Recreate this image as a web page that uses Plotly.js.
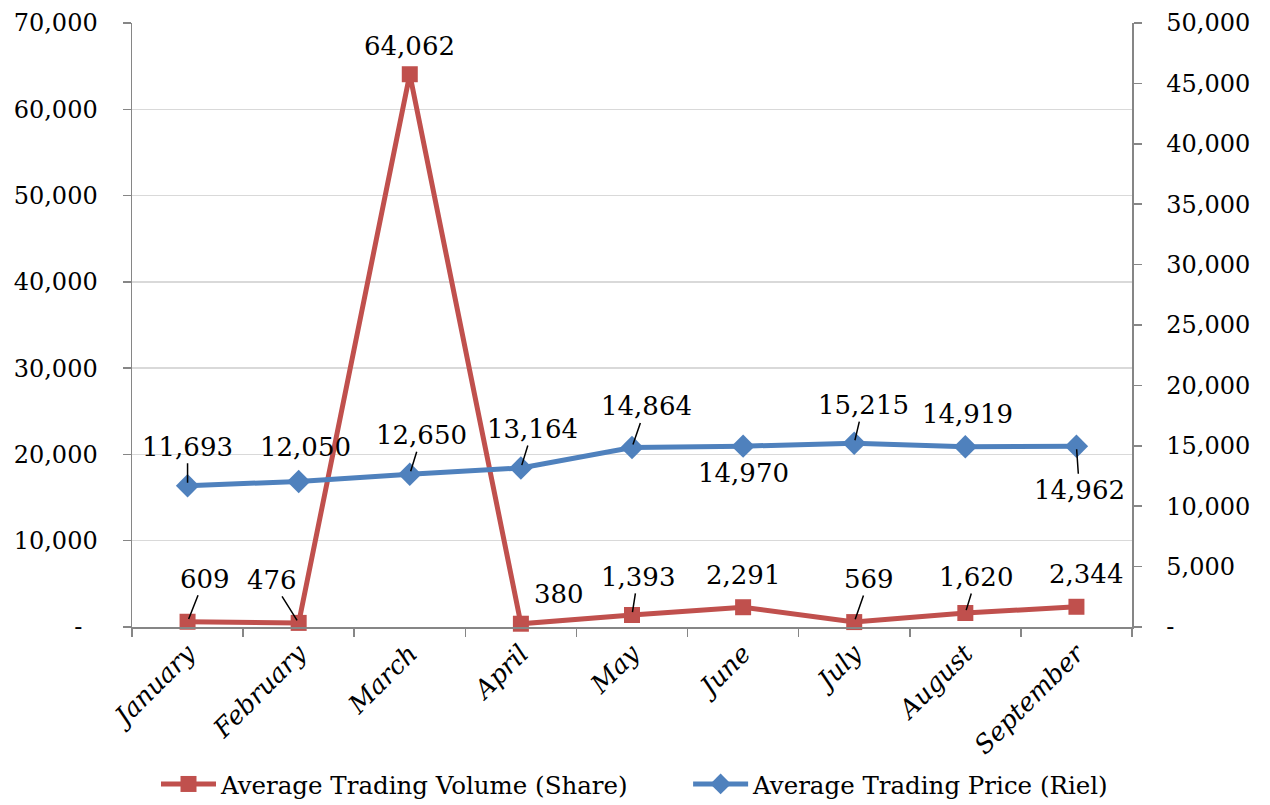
<!DOCTYPE html>
<html>
<head>
<meta charset="utf-8">
<script src="https://cdn.plot.ly/plotly-3.0.1.min.js"></script>
<style>html,body{margin:0;padding:0;background:#fff;}#chart{width:1270px;height:805px;}</style>
</head>
<body>
<div id="chart"></div>
<script>
const months = ["January","February","March","April","May","June","July","August","September"];
const volume = [609, 476, 64062, 380, 1393, 2291, 569, 1620, 2344];
const price = [11693, 12050, 12650, 13164, 14864, 14970, 15215, 14919, 14962];
const leftTicks = [0, 10000, 20000, 30000, 40000, 50000, 60000, 70000];
const leftTickText = ["-\u00a0\u00a0", "10,000", "20,000", "30,000", "40,000", "50,000", "60,000", "70,000"];
const rightTicks = [0, 5000, 10000, 15000, 20000, 25000, 30000, 35000, 40000, 45000, 50000];
const rightTickText = ["-", "5,000", "10,000", "15,000", "20,000", "25,000", "30,000", "35,000", "40,000", "45,000", "50,000"];
const seriesNames = ["Average Trading Volume (Share)", "Average Trading Price (Riel)"];

// label offsets (pixels) and whether a leader line shows
const volOffsets = [[17,-43,1],[-27,-43,1],[0,-28,0],[38,-30,0],[6,-38,1],[0,-32,0],[15,-43,1],[11,-36,1],[10,-33,0]];
const priceOffsets = [[0,-39,1],[7,-34,0],[12,-39,1],[12,-39,1],[14,-41,1],[0,27,0],[9,-38,1],[2,-33,0],[3,44,1]];

const FONT = "DejaVu Serif";
const RED = "#C0504D", BLUE = "#4F81BD", AXIS = "#868686";
const fmt = v => v.toLocaleString("en-US");
const GAP = "\u00a0".repeat(7);

const traces = [
  {x: months, y: volume, type: "scatter", mode: "lines+markers", name: seriesNames[0] + GAP,
   line: {color: RED, width: 5}, marker: {symbol: "square", size: 16, color: RED}, yaxis: "y", cliponaxis: false},
  {x: months, y: price, type: "scatter", mode: "lines+markers", name: seriesNames[1],
   line: {color: BLUE, width: 5}, marker: {symbol: "diamond", size: 18, color: BLUE}, yaxis: "y2", cliponaxis: false}
];

const annotations = [];
volume.forEach((v, i) => {
  const o = volOffsets[i];
  annotations.push({x: months[i], y: v, xref: "x", yref: "y", text: fmt(v), showarrow: true,
    ax: o[0], ay: o[1], arrowhead: 0, arrowwidth: 1.5, standoff: 3,
    arrowcolor: o[2] ? "#000" : "rgba(0,0,0,0)", font: {family: FONT, size: 26, color: "#000"}});
});
price.forEach((v, i) => {
  const o = priceOffsets[i];
  annotations.push({x: months[i], y: v, xref: "x", yref: "y2", text: fmt(v), showarrow: true,
    ax: o[0], ay: o[1], arrowhead: 0, arrowwidth: 1.5, standoff: 3,
    arrowcolor: o[2] ? "#000" : "rgba(0,0,0,0)", font: {family: FONT, size: 26, color: "#000"}});
});

const layout = {
  width: 1270, height: 805,
  margin: {l: 132, r: 138, t: 23, b: 178, autoexpand: false},
  paper_bgcolor: "#fff", plot_bgcolor: "#fff",
  font: {family: FONT, size: 24, color: "#000"},
  showlegend: true,
  legend: {orientation: "h", x: 0.024, xanchor: "left", y: -0.26, yanchor: "middle",
    font: {family: FONT, size: 24.5, color: "#000"}, itemwidth: 55, traceorder: "normal"},
  xaxis: {type: "category", range: [-0.5, 8.5], tickson: "boundaries", ticks: "outside", ticklen: 8,
    tickcolor: AXIS, tickwidth: 1.5, showline: true, linecolor: AXIS, linewidth: 1.5, showgrid: false,
    tickangle: -45, tickfont: {family: FONT, size: 25.5, color: "#000", style: "italic"}, zeroline: false, automargin: false},
  yaxis: {range: [0, 70000], tickvals: leftTicks, ticktext: leftTickText, ticks: "outside", ticklen: 8,
    tickcolor: AXIS, tickwidth: 1.5, showline: true, linecolor: AXIS, linewidth: 1.5,
    showgrid: true, gridcolor: "#D9D9D9", gridwidth: 1.5, zeroline: false, automargin: false,
    tickfont: {family: FONT, size: 24, color: "#000"}, ticklabelstandoff: 20},
  yaxis2: {range: [0, 50000], overlaying: "y", side: "right", tickvals: rightTicks, ticktext: rightTickText,
    ticks: "outside", ticklen: 8, tickcolor: AXIS, tickwidth: 1.5, showline: true, linecolor: AXIS, linewidth: 1.5,
    showgrid: false, zeroline: false, automargin: false, tickfont: {family: FONT, size: 24, color: "#000"}, ticklabelstandoff: 20},
  annotations: annotations
};

Plotly.newPlot("chart", traces, layout, {displayModeBar: false, staticPlot: true});
</script>
</body>
</html>
